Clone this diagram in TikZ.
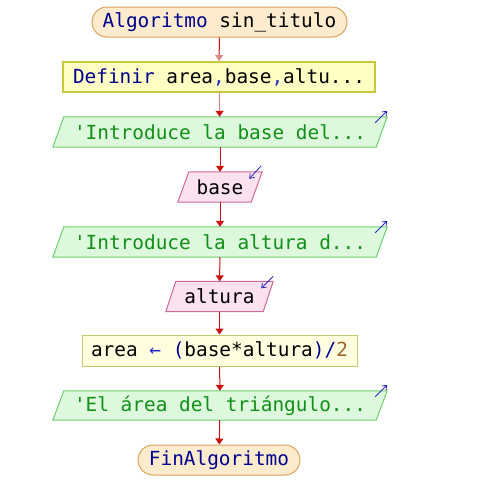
\documentclass[tikz,border=0pt]{standalone}
\usepackage{fontspec}
\setmonofont{DejaVu Sans Mono}
\usetikzlibrary{arrows.meta,calc,backgrounds}

\definecolor{termfill}{HTML}{FDEBCD}
\definecolor{termline}{HTML}{D9A35F}
\definecolor{deffill}{HTML}{FFFFC4}
\definecolor{defline}{HTML}{C8C83C}
\definecolor{asgfill}{HTML}{FFFFE0}
\definecolor{asgline}{HTML}{C8C870}
\definecolor{outfill}{HTML}{DDF8DD}
\definecolor{outline}{HTML}{6FCF6F}
\definecolor{readfill}{HTML}{FCE1EE}
\definecolor{readline}{HTML}{D0689A}
\definecolor{kw}{HTML}{000090}
\definecolor{sep}{HTML}{2828C8}
\definecolor{strtxt}{HTML}{118F18}
\definecolor{numtxt}{HTML}{A0652A}
\definecolor{flow}{HTML}{CC1010}
\definecolor{flowpale}{HTML}{D88888}
\definecolor{mark}{HTML}{2B2BC0}

\tikzset{
  every node/.style={font=\ttfamily\fontsize{19.4}{22}\selectfont, inner sep=0pt},
  shapebox/.style={rectangle, minimum height=30},
  terminal/.style={shapebox, rounded corners=15, fill=termfill, draw=termline, line width=1},
  defbox/.style={shapebox, fill=deffill, draw=defline, line width=2},
  asgbox/.style={shapebox, fill=asgfill, draw=asgline, line width=1},
  outpara/.style={fill=outfill, draw=outline, line width=1},
  readpara/.style={fill=readfill, draw=readline, line width=1},
  flowline/.style={draw=flow, line width=1, -{Triangle[width=8,length=6]}},
  iomark/.style={draw=mark, line width=0.8, -{Straight Barb[length=4,width=6]}},
}

% slanted box drawn round an empty-framed node
\newcommand{\slantbox}[3]{%
  \path[#2] (#1.south west) -- ($(#1.north west)+(#3,0)$) -- (#1.north east)
    -- ($(#1.south east)-(#3,0)$) -- cycle;}

\begin{document}
\begin{tikzpicture}[x=1pt,y=-1pt]
  \useasboundingbox (0,0) rectangle (499,490);

  \node[terminal, minimum width=255] (start) at (219.5,22)
    {\textcolor{kw}{Algoritmo} sin\_titulo};
  \node[defbox, minimum width=312] (def) at (219,77)
    {\textcolor{kw}{Definir} area\textcolor{sep}{,}base\textcolor{sep}{,}altu...};
  \node[shapebox, minimum width=334] (in1) at (220,132)
    {\textcolor{strtxt}{'Introduce la base del...}};
  \node[shapebox, minimum width=84] (rb) at (220,187) {base};
  \node[shapebox, minimum width=334] (in2) at (220,242)
    {\textcolor{strtxt}{'Introduce la altura d...}};
  \node[shapebox, minimum width=107] (ra) at (219.5,296.5) {altura};
  \node[asgbox, minimum width=275, minimum height=31] (asg) at (219.5,350.5)
    {area \textcolor{sep}{←} \textcolor{kw}{(}base*altura\textcolor{kw}{)/}\textcolor{numtxt}{2}};
  \node[shapebox, minimum width=334, minimum height=29] (out) at (220,405.5)
    {\textcolor{strtxt}{'El área del triángulo...}};
  \node[terminal, minimum width=162] (fin) at (219,460)
    {\textcolor{kw}{FinAlgoritmo}};

  \begin{scope}[on background layer]
    \fill[white] (0,0) rectangle (499,490);
    \slantbox{in1}{outpara}{11}
    \slantbox{in2}{outpara}{11}
    \slantbox{out}{outpara}{11}
    \slantbox{rb}{readpara}{11}
    \slantbox{ra}{readpara}{10}
  \end{scope}

  % flow connectors
  \draw[flowline, -{Triangle[width=8,length=6,color=flowpale]}] (start) -- (def);
  \draw[flowline, draw=flowpale, -{Triangle[width=8,length=6,color=flow]}] (def) -- (in1);
  \draw[flowline] (in1) -- (rb);
  \draw[flowline] (rb) -- (in2);
  \draw[flowline] (in2) -- (ra);
  \draw[flowline] (ra) -- (asg);
  \draw[flowline] (asg) -- (out);
  \draw[flowline] (out) -- (fin);

  % output / input markers at the top right corners
  \coordinate (m1a) at ($(in1.north east)+(-12,6)$);
  \coordinate (m1b) at ($(in1.north east)+(0,-6)$);
  \draw[iomark] (m1a) -- (m1b);
  \coordinate (m2a) at ($(in2.north east)+(-12,6)$);
  \coordinate (m2b) at ($(in2.north east)+(0,-6)$);
  \draw[iomark] (m2a) -- (m2b);
  \coordinate (m3a) at ($(out.north east)+(-12,6)$);
  \coordinate (m3b) at ($(out.north east)+(0,-6)$);
  \draw[iomark] (m3a) -- (m3b);
  \coordinate (r1a) at ($(rb.north east)+(-1,-6)$);
  \coordinate (r1b) at ($(rb.north east)+(-13,7)$);
  \draw[iomark] (r1a) -- (r1b);
  \coordinate (r2a) at ($(ra.north east)+(0,-5)$);
  \coordinate (r2b) at ($(ra.north east)+(-12,7)$);
  \draw[iomark] (r2a) -- (r2b);
\end{tikzpicture}
\end{document}
